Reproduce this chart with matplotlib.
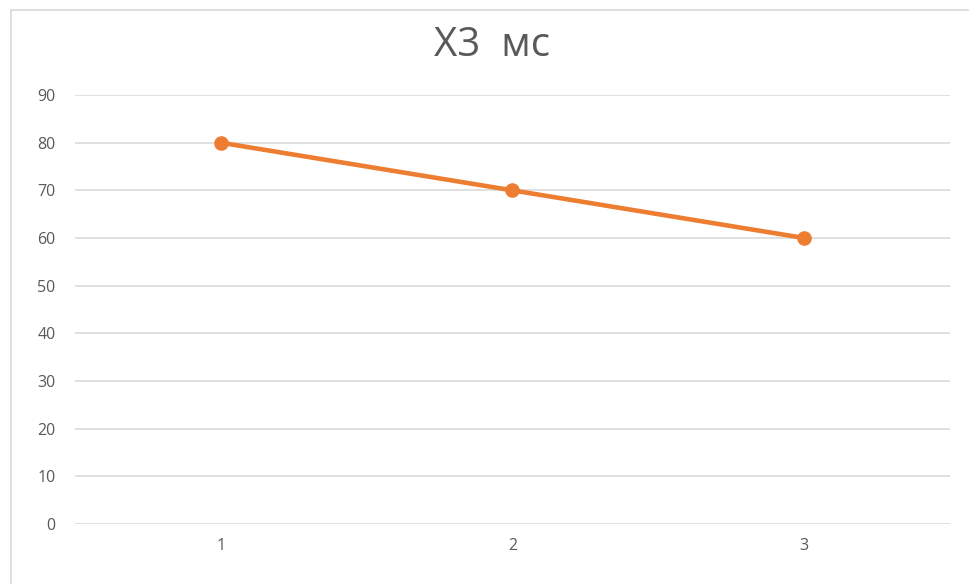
import matplotlib.pyplot as plt
from matplotlib.lines import Line2D

categories = ["1", "2", "3"]
values = [80, 70, 60]
yticks = [0, 10, 20, 30, 40, 50, 60, 70, 80, 90]
title = "Х3  мс"

plt.rcParams['font.family'] = ['Open Sans', 'DejaVu Sans']

fig = plt.figure(figsize=(9.7, 5.84), dpi=100)
ax = fig.add_axes([0.0773, 0.1027, 0.9021, 0.7346])

x = range(len(categories))
ax.plot(x, values, color="#ED7D31", lw=3.3, marker="o", ms=9.5,
        solid_capstyle="round", zorder=3)

ax.set_xlim(-0.5, len(categories) - 0.5)
ax.set_ylim(0, 90)
ax.set_xticks(list(x))
ax.set_xticklabels(categories)
ax.set_yticks(yticks)
ax.grid(axis="y", color="#DDDDDD", lw=1.3)
ax.set_axisbelow(True)
for s in ax.spines.values():
    s.set_visible(False)
ax.tick_params(length=0, colors="#595959", labelsize=11.5)
ax.tick_params(axis="y", pad=14)
ax.tick_params(axis="x", pad=10)

fig.text(0.507, 0.921, title, ha="center", va="center", fontsize=29, color="#595959")

# chart border (top and left edges visible in the crop)
fig.add_artist(Line2D([11 / 970, 1], [1 - 10 / 584, 1 - 10 / 584], color="#D9D9D9", lw=1.2))
fig.add_artist(Line2D([11 / 970, 11 / 970], [0, 1 - 10 / 584], color="#D9D9D9", lw=1.2))

fig.savefig("out.png", dpi=100)
